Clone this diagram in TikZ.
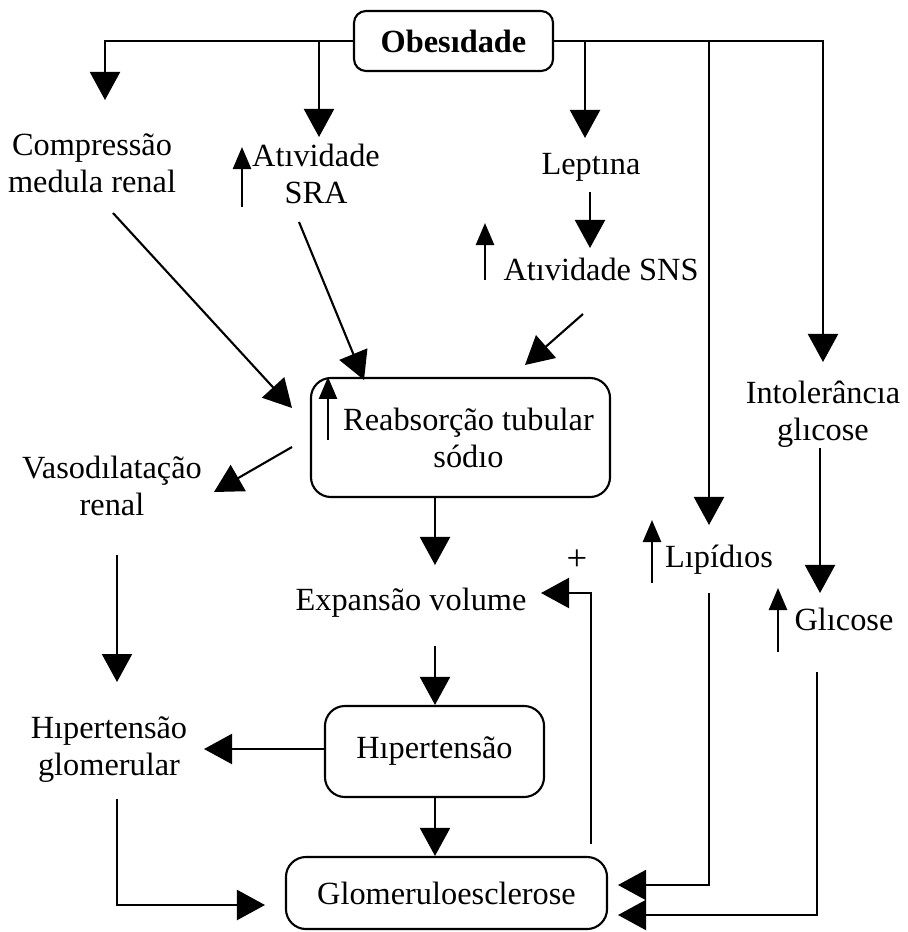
\documentclass[tikz,border=0pt]{standalone}
\usepackage{fontspec}
\setmainfont{Liberation Serif}
\usetikzlibrary{arrows.meta,positioning,calc}

\tikzset{
  txt/.style={align=center, inner sep=0pt, anchor=base, font=\fontsize{23}{26.3}\selectfont},
  rbox/.style={draw, line width=1.5pt, rounded corners=0.5cm, inner sep=0pt, align=center, font=\fontsize{23}{26.3}\selectfont},
  arr/.style={line width=1.5pt, -{Triangle[length=0.7cm,width=0.75cm]}},
  upmark/.style={line width=1.8pt, -{Triangle[length=0.55cm,width=0.45cm]}},
}

\begin{document}
\begin{tikzpicture}[x=0.025cm,y=-0.025cm]
    \useasboundingbox (0,0) rectangle (907,932);

    % Boxes
    \node[rbox, rounded corners=0.3cm, minimum width=4.975cm, minimum height=1.5cm] (obes) at (453.5,41) {\bfseries Obesıdade};
    \node[rbox, minimum width=7.475cm, minimum height=2.975cm] (reab) at (460.5,437.5) {};
    \node[txt] (reabtxt) at (468.5,467) {Reabsorção tubular\\sódıo};
    \node[rbox, minimum width=5.475cm, minimum height=2.275cm] (hiper) at (434.5,751.5) {Hıpertensão};
    \node[rbox, minimum width=8.025cm, minimum height=1.8cm] (glom) at (446.5,893) {Glomeruloesclerose};

    % Text nodes (base = last line)
    \node[txt] (comp) at (92,192) {Compressão\\medula renal};
    \node[txt] (sra) at (316,203) {Atıvidade\\SRA};
    \node[txt] (lept) at (591,175) {Leptına};
    \node[txt] (sns) at (601,280) {Atıvidade SNS};
    \node[txt] (intol) at (823,440) {Intolerâncıa\\glıcose};
    \node[txt] (vaso) at (112,515) {Vasodılatação\\renal};
    \node[txt] (lip) at (719,567) {Lıpídıos};
    \node[txt] (expa) at (411,610) {Expansão volume};
    \node[txt] (glic) at (844,630) {Glıcose};
    \node[txt] (hglom) at (109,775) {Hıpertensão\\glomerular};
    \node[txt, font=\fontsize{26}{28}\selectfont] (plus) at (577,570) {+};

    % Increase markers
    \draw[upmark] (242,207) -- (242,147);
    \draw[upmark] (485,280) -- (485,223);
    \draw[upmark] (328,440) -- (reab.north -| 328,0);
    \draw[upmark] (652,583) -- (652,520);
    \draw[upmark] (778,652) -- (778,588);

    % Branches from Obesidade
    \coordinate (tcomp) at (105,100);
    \coordinate (tsra) at (319,137);
    \coordinate (tlept) at (585,138);
    \coordinate (tintol) at (823,362);
    \coordinate (tlip) at (709,525);
    \draw[arr] (obes.west) -| (tcomp);
    \draw[arr] (obes.west -| tsra) -- (tsra);
    \draw[arr] (obes.east -| tlept) -- (tlept);
    \draw[arr] (obes.east) -| (tintol);
    \draw[arr] (obes.east -| tlip) -- (tlip);

    % Leptina chain
    \draw[arr] (590,192) -- (590,248);

    % Into reabsorption
    \draw[arr] (113,213) -- (292,408);
    \draw[arr] (299,222) -- (364,380);
    \draw[arr] (583,314) -- (525,365);

    % From reabsorption
    \draw[arr] (292,447) -- (214,492);
    \draw[arr] (reab.south -| 435,0) -- (435,565);
    \draw[arr] (820,448) -- (820,593);

    % Middle column
    \draw[arr] (117,555) -- (117,682);
    \draw[arr] (435,646) -- (hiper.north -| 435,0);
    \draw[arr] (hiper.west |- 0,749) -- (204,749);
    \draw[arr] (hiper.south -| 435,0) -- (glom.north -| 435,0);
    \draw[arr] (117,799) |- (265,905);

    % Feedback and right inputs
    \draw[arr] (glom.north -| 591,0) ++(0,-12) |- (541,593);
    \draw[arr] (709,593) |- (618,885);
    \draw[arr] (817,672) |- (618,915);
\end{tikzpicture}
\end{document}
